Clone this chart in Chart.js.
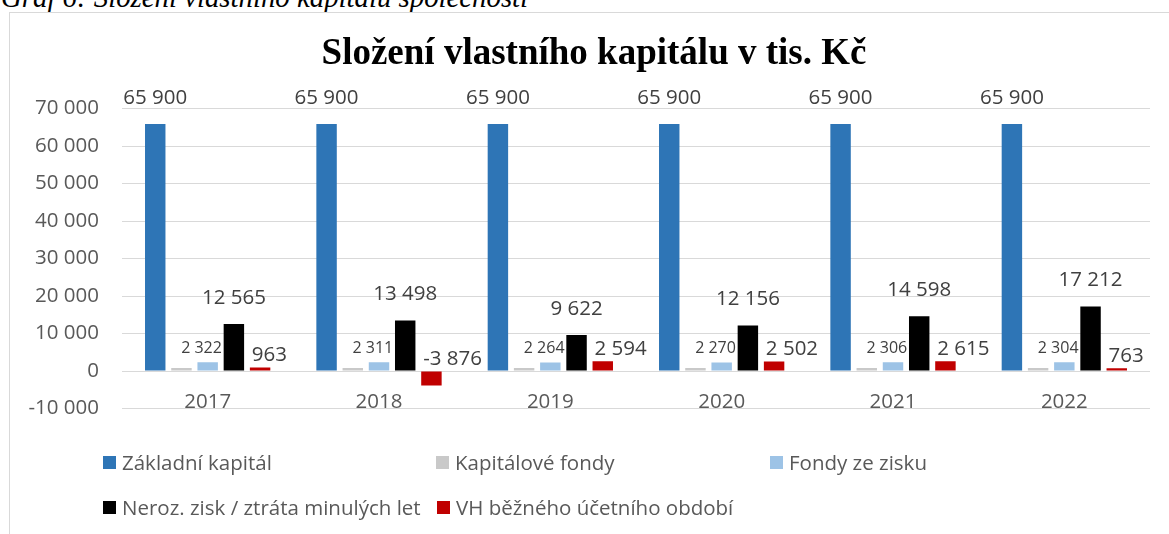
<!DOCTYPE html>
<html>
<head>
<meta charset="utf-8">
<script src="https://cdn.jsdelivr.net/npm/chart.js@4.4.1/dist/chart.umd.min.js"></script>
<style>
  html, body { margin: 0; padding: 0; background: #fff; overflow: hidden; }
  body { width: 1169px; height: 534px; position: relative; }
  #frame { position: absolute; left: 9px; top: 12px; width: 1180px; height: 540px; border: 1px solid #d9d9d9; box-sizing: border-box; }
  #caption { position: absolute; left: 1px; top: -17px; font: italic 28.8px "Liberation Serif", "Times New Roman", serif; line-height: 1; color: #000; white-space: nowrap; }
  #wrap { position: absolute; left: 0; top: 0; width: 1169px; height: 534px; }
  #legend { position: absolute; left: 0; top: 0; width: 1169px; height: 534px; pointer-events: none; }
  .li { position: absolute; height: 20px; font: 20.5px "Open Sans", sans-serif; color: #595959; white-space: nowrap; }
  .li .box { position: absolute; left: 0; top: 3px; width: 13px; height: 13px; }
  .li .txt { position: absolute; left: 19px; top: -5px; line-height: 28px; }
</style>
</head>
<body>
<div id="caption">Graf 6: Složení vlastního kapitálu společnosti</div>
<div id="frame"></div>
<div id="wrap"><canvas id="c" width="1169" height="534"></canvas></div>
<div id="legend"></div>
<script>
// ---- data ----
const categories = ['2017', '2018', '2019', '2020', '2021', '2022'];
const seriesNames = ['Základní kapitál', 'Kapitálové fondy', 'Fondy ze zisku', 'Neroz. zisk / ztráta minulých let', 'VH běžného účetního období'];
const zakladniKapital = [65900, 65900, 65900, 65900, 65900, 65900];
const kapitaloveFondy = [800, 800, 800, 800, 800, 800];
const fondyZeZisku = [2322, 2311, 2264, 2270, 2306, 2304];
const nerozZisk = [12565, 13498, 9622, 12156, 14598, 17212];
const vhBezneho = [963, -3876, 2594, 2502, 2615, 763];
const yTicks = [-10000, 0, 10000, 20000, 30000, 40000, 50000, 60000, 70000];

const colors = ['#2E75B6', '#C9C9C9', '#9DC3E6', '#000000', '#C00000'];
const seriesValues = [zakladniKapital, kapitaloveFondy, fondyZeZisku, nerozZisk, vhBezneho];
// label style per series: null = no labels
const labelStyle = [
  { size: 20.5, align: 'center', dx: 0, off: 26 },
  null,
  { size: 16, align: 'right', dx: 4, off: 14 },
  { size: 20.5, align: 'center', dx: 0, off: 26 },
  { size: 20.5, align: 'left', dx: 2, off: 12 }
];

function fmt(v) {
  const s = Math.abs(v).toString().replace(/\B(?=(\d{3})+(?!\d))/g, ' ');
  return (v < 0 ? '-' : '') + s;
}

const datasets = seriesNames.map((n, i) => ({
  label: n,
  data: seriesValues[i],
  backgroundColor: colors[i],
  borderWidth: 0,
  categoryPercentage: 0.765,
  barPercentage: 0.78
}));

const dataLabels = {
  id: 'dataLabels',
  afterDatasetsDraw(chart) {
    const ctx = chart.ctx;
    ctx.save();
    ctx.fillStyle = '#404040';
    ctx.textBaseline = 'middle';
    chart.data.datasets.forEach((ds, di) => {
      const st = labelStyle[di];
      if (!st) return;
      ctx.font = st.size + 'px "Open Sans", sans-serif';
      ctx.textAlign = st.align;
      chart.getDatasetMeta(di).data.forEach((bar, j) => {
        const top = Math.min(bar.y, bar.base);
        let x = bar.x;
        if (st.align === 'left') x = bar.x - bar.width / 2;
        if (st.align === 'right') x = bar.x + bar.width / 2;
        ctx.fillText(fmt(ds.data[j]), x + st.dx, top - st.off);
      });
    });
    ctx.restore();
  }
};

const chart = new Chart(document.getElementById('c'), {
  type: 'bar',
  data: { labels: categories, datasets },
  plugins: [dataLabels],
  options: {
    responsive: false,
    animation: false,
    layout: { padding: { left: 19, right: 0, top: 0, bottom: 125.5 } },
    plugins: {
      legend: { display: false },
      tooltip: { enabled: false },
      title: {
        display: true,
        text: 'Složení vlastního kapitálu v tis. Kč',
        color: '#000',
        font: { family: '"Liberation Serif", "Times New Roman", serif', size: 37, weight: 'bold', lineHeight: 1.2 },
        padding: { top: 32.5, bottom: 31.6 }
      }
    },
    scales: {
      x: {
        position: { y: 0 },
        grid: { display: false, drawTicks: false },
        border: { display: false },
        ticks: { color: '#595959', font: { family: '"Open Sans", sans-serif', size: 20.5 }, padding: 19, maxRotation: 0 },
        afterFit(s) { s.height = 0; }
      },
      y: {
        min: -10000,
        max: 70000,
        afterBuildTicks(s) { s.ticks = yTicks.map(v => ({ value: v })); },
        grid: { color: '#D9D9D9', lineWidth: 1, drawTicks: false },
        border: { display: false },
        ticks: { color: '#595959', font: { family: '"Open Sans", sans-serif', size: 20.5 }, padding: 23, callback: v => fmt(v) },
        afterFit(s) { s.width = 103; }
      },
      yRight: {
        type: 'linear',
        position: 'right',
        display: true,
        grid: { display: false, drawTicks: false },
        border: { display: false },
        ticks: { display: false },
        afterFit(s) { s.width = 19; }
      }
    }
  }
});

// legend (HTML, grid of 3 columns)
const legendPos = [[103, 456], [436, 456], [770, 456], [103, 501], [437, 501]];
const lg = document.getElementById('legend');
seriesNames.forEach((n, i) => {
  const d = document.createElement('div');
  d.className = 'li';
  d.style.left = legendPos[i][0] + 'px';
  d.style.top = (legendPos[i][1] - 3) + 'px';
  const b = document.createElement('span'); b.className = 'box'; b.style.background = colors[i];
  const t = document.createElement('span'); t.className = 'txt'; t.textContent = n;
  d.appendChild(b); d.appendChild(t); lg.appendChild(d);
});
</script>
</body>
</html>
